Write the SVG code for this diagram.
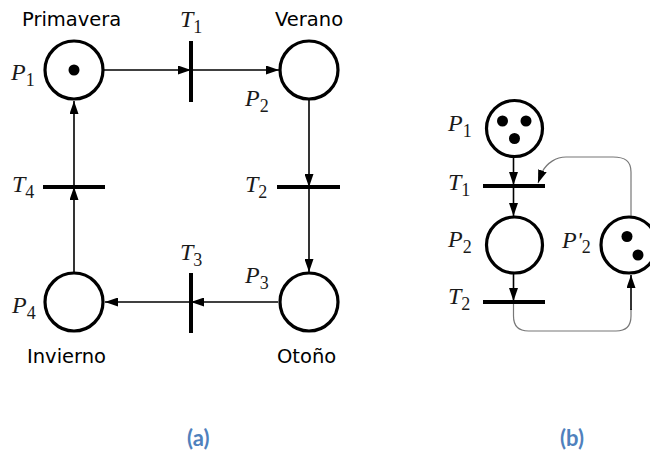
<svg xmlns="http://www.w3.org/2000/svg" width="650" height="452" viewBox="0 0 650 452">
<style>
.pl{fill:#fff;stroke:#000;stroke-width:3.2}
.tk{fill:#000}
.tr{stroke:#000;stroke-width:4;stroke-linecap:butt}
.ar{stroke:#000;stroke-width:1.6;fill:none}
.gr{stroke:#777;stroke-width:1.2;fill:none}
.m{font-family:"Liberation Serif",serif;font-style:italic;font-size:24px;fill:#1a1a1a}
.s{font-style:normal;font-size:18px}
.n{font-family:"DejaVu Sans",sans-serif;font-size:19.5px;fill:#000}
.c{font-family:Lato,"Open Sans",sans-serif;font-weight:bold;font-size:22px;fill:#4f81bd}
</style>
<defs>
<marker id="ah" markerWidth="13" markerHeight="9" refX="13" refY="4.5" orient="auto" markerUnits="userSpaceOnUse"><path d="M0,0 L13,4.5 L0,9 z" fill="#000"/></marker>
</defs>
<rect width="650" height="452" fill="#fff"/>
<g id="connectors">
<line class="ar" x1="103" y1="70" x2="191" y2="70" marker-end="url(#ah)"/>
<line class="ar" x1="191" y1="70" x2="279" y2="70" marker-end="url(#ah)"/>
<line class="ar" x1="309" y1="100" x2="309" y2="187" marker-end="url(#ah)"/>
<line class="ar" x1="309" y1="187" x2="309" y2="272" marker-end="url(#ah)"/>
<line class="ar" x1="278" y1="302" x2="191" y2="302" marker-end="url(#ah)"/>
<line class="ar" x1="191" y1="302" x2="105" y2="302" marker-end="url(#ah)"/>
<line class="ar" x1="74" y1="272" x2="74" y2="187" marker-end="url(#ah)"/>
<line class="ar" x1="74" y1="187" x2="74" y2="101" marker-end="url(#ah)"/>
<line class="ar" x1="513.5" y1="158" x2="513.5" y2="185" marker-end="url(#ah)"/>
<line class="ar" x1="513.5" y1="186" x2="513.5" y2="216" marker-end="url(#ah)"/>
<line class="ar" x1="513.5" y1="274" x2="513.5" y2="301" marker-end="url(#ah)"/>
<path class="gr" d="M513.5,302 V316 Q513.5,331 528.5,331 H616 Q631,331 631,316 V309"/>
<line class="ar" x1="631" y1="310" x2="631" y2="275" marker-end="url(#ah)"/>
<path class="gr" d="M631,217 V172 C631,161 625,157 613,157 H566 C556,157 547,163 542,172 L538,183" marker-end="url(#ah)"/>
</g>
<g id="P1a"><circle class="pl" cx="74" cy="70" r="29"/><circle class="tk" cx="74" cy="70" r="5.5"/>
<text class="n" x="22" y="26">Primavera</text><text class="m" x="11" y="80">P<tspan class="s" dy="6">1</tspan></text></g>
<g id="P2a"><circle class="pl" cx="309" cy="70" r="29"/>
<text class="n" x="275" y="26">Verano</text><text class="m" x="245" y="106">P<tspan class="s" dy="6">2</tspan></text></g>
<g id="P3a"><circle class="pl" cx="309" cy="302" r="29"/>
<text class="n" x="277" y="363">Otoño</text><text class="m" x="245" y="283">P<tspan class="s" dy="6">3</tspan></text></g>
<g id="P4a"><circle class="pl" cx="74" cy="302" r="29"/>
<text class="n" x="27" y="363">Invierno</text><text class="m" x="12" y="313">P<tspan class="s" dy="6">4</tspan></text></g>
<g id="T1a"><line class="tr" x1="191" y1="41" x2="191" y2="102"/><text class="m" x="180" y="27">T<tspan class="s" dy="6">1</tspan></text></g>
<g id="T2a"><line class="tr" x1="277" y1="187" x2="340" y2="187"/><text class="m" x="245" y="192">T<tspan class="s" dy="6">2</tspan></text></g>
<g id="T3a"><line class="tr" x1="191" y1="273" x2="191" y2="333"/><text class="m" x="180" y="260">T<tspan class="s" dy="6">3</tspan></text></g>
<g id="T4a"><line class="tr" x1="43" y1="187" x2="105" y2="187"/><text class="m" x="12" y="192">T<tspan class="s" dy="6">4</tspan></text></g>
<g id="P1b"><circle class="pl" cx="514.5" cy="128.5" r="28"/>
<circle class="tk" cx="502.5" cy="121" r="5.5"/><circle class="tk" cx="526" cy="121" r="5.5"/><circle class="tk" cx="514.5" cy="138.5" r="5.5"/>
<text class="m" x="448" y="131">P<tspan class="s" dy="6">1</tspan></text></g>
<g id="T1b"><line class="tr" x1="483" y1="186" x2="545" y2="186"/><text class="m" x="448" y="190">T<tspan class="s" dy="6">1</tspan></text></g>
<g id="P2b"><circle class="pl" cx="514.5" cy="245" r="28"/>
<text class="m" x="448" y="247">P<tspan class="s" dy="6">2</tspan></text></g>
<g id="T2b"><line class="tr" x1="483" y1="302" x2="545" y2="302"/><text class="m" x="448" y="304">T<tspan class="s" dy="6">2</tspan></text></g>
<g id="P2pb"><circle class="pl" cx="629" cy="245" r="28"/>
<circle class="tk" cx="627" cy="236.5" r="5.5"/><circle class="tk" cx="638" cy="255" r="5.5"/>
<text class="m" x="562" y="248">P'<tspan class="s" dy="5">2</tspan></text></g>
<text class="c" x="187" y="446">(a)</text>
<text class="c" x="560" y="446">(b)</text>
</svg>
